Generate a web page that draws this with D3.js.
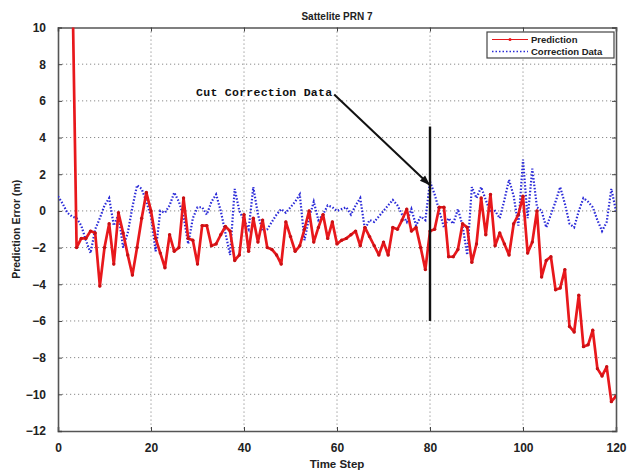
<!DOCTYPE html>
<html>
<head>
<meta charset="utf-8">
<script src="https://cdn.jsdelivr.net/npm/d3@7"></script>
<style>
  body { margin: 0; background: #fff; }
  text { font-family: "Liberation Sans", Arial, sans-serif; }
  text.mono { font-family: "Liberation Mono", "DejaVu Sans Mono", monospace; }
</style>
</head>
<body>
<svg id="chart" width="630" height="472"></svg>
<script>
// data
const predStart = 3;
const prediction = [
  14, -2.0, -1.5, -1.5, -1.1, -1.2, -4.1, -2.0, -0.7, -2.9,
  -0.1, -1.2, -2.4, -3.5, -2.0, -0.4, 1.0, 0.0, -1.5, -2.3,
  -3.1, -1.3, -2.2, -2.0, 0.7, -1.5, -1.6, -2.9, -0.8, -0.8,
  -1.9, -1.8, -1.3, -0.85, -1.1, -2.7, -2.4, -0.2, -2.2, -0.4,
  -1.7, -0.5, -2.0, -2.1, -2.4, -2.9, -0.6, -1.4, -2.2, -1.9,
  -1.0, 0.0, -1.7, -0.9, -0.2, -1.5, -0.6, -1.8, -1.6, -1.5,
  -1.3, -1.1, -1.9, -0.9, -1.4, -1.9, -2.4, -1.7, -2.4, -0.9,
  -1.0, -0.5, 0.1, -1.1, -0.9, -2.0, -3.2, -1.1, -1.0, 0.2,
  0.2, -2.5, -2.5, -2.1, -0.7, -0.9, -2.8, -1.8, 0.7, -1.3,
  0.9, -1.9, -1.2, -1.8, -2.4, -0.7, -0.2, 0.8, -2.3, -1.7,
  0.0, -3.6, -2.7, -2.5, -4.3, -4.2, -3.2, -6.3, -6.6, -4.6,
  -7.4, -7.3, -6.5, -8.6, -9.0, -8.5, -10.4, -10.1
];
const correction = [
  0.8, 0.4, -0.1, -0.3, -0.4, -0.8, -1.6, -2.3, -1.0, -0.4,
  0.3, 0.7, -0.8, -0.2, -2.0, -1.2, 0.2, 1.4, 1.2, 0.5,
  -0.3, -2.2, 0.0, -0.1, 0.3, 1.0, 0.5, -0.3, -1.8, -0.4,
  0.2, 0.2, -0.2, 0.5, 0.9, 0.0, -1.2, -2.4, 1.2, 0.0,
  -0.5, -1.0, 1.3, -0.2, -1.1, -1.0, -0.6, -0.2, 0.1, -0.1,
  0.2, 0.5, 0.9, -1.6, -0.4, 0.5, -0.5, -0.2, 0.3, 0.2,
  0.0, 0.1, 0.2, -0.2, 0.3, 0.7, -1.0, -0.5, -0.6, -0.3,
  0.0, 0.3, 0.6, 0.3, -0.2, -0.6, 0.1, -0.8, -0.3, -0.5,
  1.6, 0.9, 0.0, -0.9, -0.4, -0.7, 0.1, -0.8, -2.4, 1.3,
  0.7, 1.3, 0.6, -0.1, 0.0, -0.4, 0.6, 1.7, 0.8, -0.8,
  2.8, -0.4, 2.3, 0.2, 0.0, -0.9, -0.2, 0.5, 1.3, 0.4,
  -0.7, -0.9, 0.0, 0.7, 0.5, 0.2, -0.5, -1.1, -0.6, 1.2,
  0.0
];
const xTicks = [0, 20, 40, 60, 80, 100, 120];
const yTicks = [10, 8, 6, 4, 2, 0, -2, -4, -6, -8, -10, -12];
const cutStep = 80;
const cutRange = [4.6, -6.0];
const seriesNames = ["Prediction", "Correction Data"];

let svg = d3.select("#chart");
const mLeft = 58, mRight = 616, mTop = 27.5, mBottom = 431;

let x = d3.scaleLinear().domain([0, 120]).range([mLeft, mRight]);
let y = d3.scaleLinear().domain([-12, 10]).range([mBottom, mTop]);

// grid
let grid = svg.append("g").attr("stroke", "#8a8a8a").attr("stroke-width", 1).attr("stroke-dasharray", "1.2,2.8");
grid.selectAll(".gx").data(xTicks.slice(1, -1)).enter().append("line")
  .attr("x1", d => x(d)).attr("x2", d => x(d)).attr("y1", mTop).attr("y2", mBottom);
grid.selectAll(".gy").data(yTicks.slice(1, -1)).enter().append("line")
  .attr("y1", d => y(d)).attr("y2", d => y(d)).attr("x1", mLeft).attr("x2", mRight);

// axes
svg.append("g").attr("transform", `translate(0,${mBottom})`)
  .call(d3.axisBottom(x).tickValues(xTicks).tickSize(-4).tickPadding(12));
svg.append("g").attr("transform", `translate(${mLeft},0)`)
  .call(d3.axisLeft(y).tickValues(yTicks).tickSize(-4).tickPadding(12)
    .tickFormat(d => d < 0 ? "\u2212" + Math.abs(d) : d));
svg.append("g").attr("transform", `translate(0,${mTop})`)
  .call(d3.axisTop(x).tickValues(xTicks).tickSize(-4).tickFormat(""));
svg.append("g").attr("transform", `translate(${mRight},0)`)
  .call(d3.axisRight(y).tickValues(yTicks).tickSize(-4).tickFormat(""));
svg.selectAll(".domain").attr("stroke", "#555").attr("stroke-width", 1.6);
svg.selectAll(".tick line").attr("stroke", "#444");
svg.selectAll(".tick text").attr("font-size", 12).attr("font-weight", "bold").attr("fill", "#222");

// clip
svg.append("clipPath").attr("id", "clip").append("rect")
  .attr("x", mLeft).attr("y", mTop).attr("width", mRight - mLeft).attr("height", mBottom - mTop);

let plot = svg.append("g").attr("clip-path", "url(#clip)");

let line = d3.line().x(d => x(d[0])).y(d => y(d[1]));
let corrPts = correction.map((v, i) => [i, v]);
let predPts = prediction.map((v, i) => [i + predStart, v]);

plot.append("path").datum(corrPts).attr("d", line)
  .attr("fill", "none").attr("stroke", "#2a2ad8").attr("stroke-width", 2.2)
  .attr("stroke-dasharray", "1.5,1.8");

plot.append("path").datum(predPts).attr("d", line)
  .attr("fill", "none").attr("stroke", "#e8181c").attr("stroke-width", 2.7)
  .attr("stroke-linejoin", "round");
plot.selectAll(".pm").data(predPts).enter().append("circle")
  .attr("cx", d => x(d[0])).attr("cy", d => y(d[1])).attr("r", 1.7).attr("fill", "#c81014");

// cut marker + annotation
svg.append("line")
  .attr("x1", x(cutStep)).attr("x2", x(cutStep))
  .attr("y1", y(cutRange[0])).attr("y2", y(cutRange[1]))
  .attr("stroke", "#111").attr("stroke-width", 2.4);

let ax0 = x(59.4), ay0 = y(6.35), ax1 = x(cutStep), ay1 = y(1.4);
svg.append("line").attr("x1", ax0).attr("y1", ay0).attr("x2", ax1).attr("y2", ay1)
  .attr("stroke", "#111").attr("stroke-width", 2);
let ang = Math.atan2(ay1 - ay0, ax1 - ax0);
let head = [[ax1, ay1],
  [ax1 - 11 * Math.cos(ang - 0.35), ay1 - 11 * Math.sin(ang - 0.35)],
  [ax1 - 11 * Math.cos(ang + 0.35), ay1 - 11 * Math.sin(ang + 0.35)]];
svg.append("path").attr("d", d3.line()(head) + "Z").attr("fill", "#111");

svg.append("text").attr("class", "mono").attr("x", x(29.7)).attr("y", y(6.5) + 4)
  .attr("font-size", 11.5).attr("font-weight", "bold").attr("fill", "#111")
  .attr("textLength", 136).attr("lengthAdjust", "spacing")
  .text("Cut Correction Data");

// titles
svg.append("text").attr("x", (mLeft + mRight) / 2).attr("y", 20).attr("text-anchor", "middle")
  .attr("font-size", 10).attr("font-weight", "bold").attr("fill", "#222").text("Sattelite PRN 7");
svg.append("text").attr("x", (mLeft + mRight) / 2).attr("y", 468).attr("text-anchor", "middle")
  .attr("font-size", 11.5).attr("font-weight", "bold").attr("fill", "#222").text("Time Step");
svg.append("text").attr("transform", `translate(20,${(mTop + mBottom) / 2}) rotate(-90)`)
  .attr("text-anchor", "middle").attr("font-size", 10.5).attr("font-weight", "bold").attr("fill", "#222")
  .text("Prediction Error (m)");

// legend
let lg = svg.append("g");
lg.append("rect").attr("x", 487).attr("y", 32).attr("width", 127).attr("height", 26)
  .attr("fill", "#fff").attr("stroke", "#444").attr("stroke-width", 1.2);
lg.append("line").attr("x1", 492).attr("x2", 528).attr("y1", 39.5).attr("y2", 39.5)
  .attr("stroke", "#e8181c").attr("stroke-width", 1.2);
lg.append("circle").attr("cx", 510).attr("cy", 39.5).attr("r", 1.5).attr("fill", "#e8181c");
lg.append("line").attr("x1", 492).attr("x2", 528).attr("y1", 51.5).attr("y2", 51.5)
  .attr("stroke", "#2a2ad8").attr("stroke-width", 1.5).attr("stroke-dasharray", "1.5,2");
lg.selectAll(".lt").data(seriesNames).enter().append("text")
  .attr("x", 531).attr("y", (d, i) => 43 + i * 12)
  .attr("font-size", 9.5).attr("font-weight", "bold").attr("fill", "#222").text(d => d);
</script>
</body>
</html>
